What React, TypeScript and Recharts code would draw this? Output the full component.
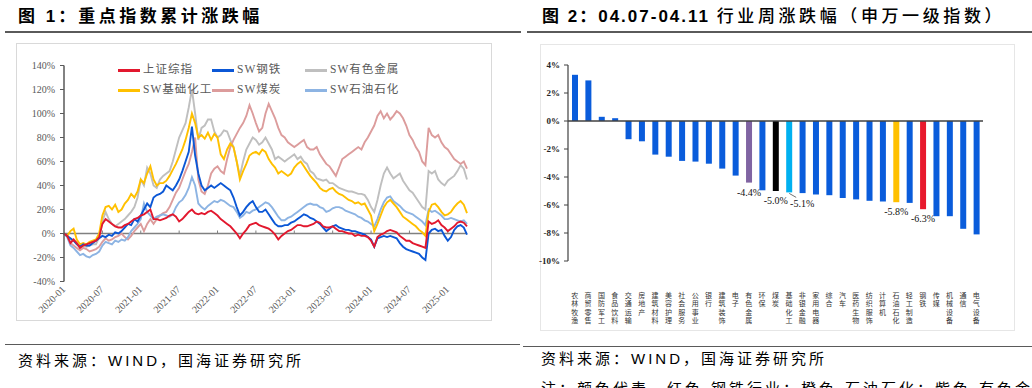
import React from 'react';
import { LineChart, Line, XAxis, YAxis, ReferenceLine, BarChart, Bar, Cell, LabelList } from 'recharts';

// ---------- Figure 1: cumulative change (semi-monthly points, 2020-01 .. 2025-04) ----------
const dates: string[] = [];
for (let yr = 2020; yr <= 2025; yr++) {
  for (let mo = 1; mo <= 12; mo++) {
    const mm = String(mo).padStart(2, '0');
    dates.push(`${yr}-${mm}-01`, `${yr}-${mm}-16`);
  }
}
dates.length = 127;

const xTicks = ['2020-01-01', '2020-07-01', '2021-01-01', '2021-07-01', '2022-01-01', '2022-07-01',
  '2023-01-01', '2023-07-01', '2024-01-01', '2024-07-01', '2025-01-01'];
const yTicksLeft = [-40, -20, 0, 20, 40, 60, 80, 100, 120, 140];

const sse = [
  0, -2, -8, -5, -8, -12, -10, -9, -8, -7, -6, -3, 8, 12, 10, 8, 6, 5, 5, 7, 8, 10, 12, 13,
  15, 16, 18, 20, 12, 12, 11, 12, 13, 15, 16, 14, 10, 12, 15, 18, 20, 17, 16, 17, 16, 18, 19, 17,
  15, 12, 10, 8, 6, 3, 0, -4, 0, 3, 7, 8, 9, 7, 6, 5, 4, 2, -1, -5, -2, 0, 2, 3,
  5, 7, 7, 6, 6, 7, 8, 10, 9, 6, 5, 5, 6, 4, 2, 2, 1, 0, 0, -2, -1, -2, -2, -3,
  -6, -11, -3, -1, 0, 2, 3, 2, 1, -2, -4, -6, -6, -8, -9, -10, -11, -12, 10, 8, 9, 11, 7, 5,
  2, 4, 6, 9, 10, 9, 6,
];
const steel = [
  0, -2, -4, -6, -9, -11, -9, -10, -10, -8, -6, -4, -2, -3, -1, -2, 1, 0, 2, 5, 8, 7, 12, 10,
  15, 20, 25, 22, 30, 32, 33, 35, 40, 38, 36, 40, 45, 52, 60, 68, 89, 65, 50, 40, 36, 38, 40, 38,
  40, 42, 40, 38, 36, 30, 22, 15, 18, 22, 25, 27, 22, 18, 18, 20, 16, 12, 8, 6, 6, 7, 7, 9,
  10, 12, 14, 16, 15, 13, 12, 10, 8, 5, 2, 4, 6, 7, 5, 4, 3, 3, 2, 2, 1, 0, -1, -3,
  -5, -11, -4, -3, -2, -3, -2, -3, -4, -8, -11, -13, -14, -15, -16, -17, -20, -22, 0, 3, 4, 2, 3, -2,
  -6, -3, 3, 6, 7, 5, -1,
];
const nonferrous = [
  0, -2, -5, -6, -8, -12, -10, -11, -10, -9, -9, -3, 10, 18, 12, 8, 6, 8, 10, 12, 15, 18, 22, 30,
  45, 40, 55, 50, 40, 38, 45, 48, 50, 52, 60, 70, 80, 86, 92, 105, 120, 100, 78, 88, 90, 95, 95, 85,
  80, 82, 86, 85, 78, 72, 60, 48, 60, 70, 75, 80, 78, 74, 76, 80, 75, 70, 62, 64, 62, 60, 62, 64,
  66, 62, 64, 60, 58, 52, 50, 46, 45, 44, 45, 42, 42, 40, 38, 37, 36, 35, 35, 34, 33, 33, 32, 28,
  22, 18, 28, 40, 50, 55, 50, 46, 48, 50, 44, 40, 36, 34, 30, 26, 22, 20, 52, 50, 52, 45, 42, 40,
  44, 46, 48, 52, 57, 54, 45,
];
const chemicals = [
  0, -2, 2, 4, -5, -9, -8, -9, -7, -6, -5, 0, 15, 22, 23, 20, 24, 18, 20, 25, 28, 33, 30, 35,
  45, 42, 50, 56, 45, 40, 42, 42, 44, 48, 53, 58, 64, 70, 78, 88, 100, 92, 80, 82, 79, 84, 78, 83,
  80, 66, 62, 70, 75, 72, 60, 45, 52, 58, 65, 67, 68, 66, 70, 68, 62, 58, 55, 50, 52, 50, 48, 50,
  55, 58, 60, 56, 52, 48, 45, 42, 38, 36, 35, 37, 38, 35, 33, 32, 30, 28, 27, 25, 26, 24, 25, 20,
  15, 2, 8, 15, 22, 26, 28, 25, 22, 18, 14, 12, 10, 8, 6, 3, 1, -2, 18, 24, 25, 22, 18, 15,
  16, 18, 22, 25, 27, 24, 17,
];
const coal = [
  0, -2, -8, -10, -12, -14, -12, -13, -15, -14, -13, -11, -7, -4, -6, -5, -3, -2, 0, -3, -5, -2, 2, 5,
  8, 2, 8, 12, 8, 12, 15, 17, 18, 22, 28, 34, 38, 45, 52, 58, 68, 80, 45, 35, 33, 40, 50, 54,
  56, 52, 50, 62, 72, 78, 83, 88, 92, 98, 107, 100, 92, 85, 88, 100, 108, 102, 96, 88, 82, 80, 76, 74,
  72, 74, 76, 78, 72, 70, 70, 72, 66, 62, 58, 56, 52, 48, 55, 62, 64, 66, 68, 70, 72, 70, 76, 80,
  85, 90, 98, 102, 96, 100, 95, 98, 102, 100, 96, 90, 82, 78, 72, 68, 60, 57, 88, 82, 80, 82, 76, 72,
  70, 66, 62, 60, 58, 60, 54,
];
const petro = [
  0, -3, -10, -12, -15, -18, -17, -19, -20, -18, -17, -15, -10, -7, -8, -9, -6, -7, -5, -6, -3, 2, 5, 8,
  12, 25, 18, 15, 12, 14, 15, 16, 15, 14, 16, 22, 26, 28, 32, 38, 47, 40, 25, 22, 20, 23, 25, 27,
  26, 28, 27, 25, 23, 22, 18, 13, 15, 18, 17, 19, 20, 22, 24, 26, 25, 22, 18, 14, 11, 11, 13, 14,
  16, 18, 20, 22, 24, 25, 24, 24, 22, 21, 18, 19, 21, 22, 22, 21, 19, 18, 17, 16, 14, 13, 11, 10,
  8, 6, 12, 20, 26, 30, 31, 27, 25, 23, 20, 18, 17, 16, 14, 12, 10, 7, 20, 18, 19, 17, 15, 12,
  12, 13, 12, 11, 10, 11, 8,
];

const lineData = dates.map((d, i) => ({
  d, sse: sse[i], steel: steel[i], nonferrous: nonferrous[i],
  chemicals: chemicals[i], coal: coal[i], petro: petro[i],
}));

const legendNames = ['上证综指', 'SW钢铁', 'SW有色金属', 'SW基础化工', 'SW煤炭', 'SW石油石化'];
const legendKeys = ['sse', 'steel', 'nonferrous', 'chemicals', 'coal', 'petro'];
const lineColors: Record<string, string> = {
  sse: '#E2182E', steel: '#0B57D6', nonferrous: '#BFBFBF',
  chemicals: '#FFC000', coal: '#DC9C9C', petro: '#8DB4E3',
};
const drawOrder = ['nonferrous', 'coal', 'petro', 'chemicals', 'steel', 'sse'];

// ---------- Figure 2: weekly change by SW level-1 industry ----------
const industries = ['农林牧渔', '商贸零售', '国防军工', '食品饮料', '交通运输', '房地产', '建筑材料', '美容护理',
  '社会服务', '公用事业', '银行', '建筑装饰', '电子', '有色金属', '环保', '煤炭', '基础化工', '非银金融',
  '家用电器', '综合', '汽车', '医药生物', '纺织服饰', '计算机', '石油石化', '轻工制造', '钢铁', '传媒',
  '机械设备', '通信', '电气设备'];
const weekly = [3.3, 2.9, 0.3, 0.2, -1.3, -1.45, -2.4, -2.55, -2.85, -2.9, -3.05, -3.4, -3.9, -4.4,
  -4.95, -5.0, -5.1, -5.15, -5.25, -5.3, -5.5, -5.6, -5.7, -5.75, -5.8, -5.85, -6.3, -6.8, -6.8, -7.7, -8.1];
const highlight: Record<string, string> = {
  '有色金属': '#8064A2', '煤炭': '#000000', '基础化工': '#00B0F0', '石油石化': '#FFC000', '钢铁': '#E8192C',
};
const defaultBar = '#0A5CDB';
const labelled = ['有色金属', '煤炭', '基础化工', '石油石化', '钢铁'];
const leaderLabel = '基础化工';
const yTicksRight = [-10, -8, -6, -4, -2, 0, 2, 4];

const barData = industries.map((name, i) => ({ name, v: weekly[i] }));

const SERIF = '"Liberation Serif", "Times New Roman", "Noto Sans CJK SC", serif';
const CJK = '"Noto Sans CJK SC", sans-serif';
const CJK_SERIF = '"Liberation Serif", "Noto Sans CJK SC", serif';
const SANS = '"Liberation Sans", Arial, "Noto Sans CJK SC", sans-serif';

const DateTick = (props: any) => {
  const { x, y, payload } = props;
  const ax = x + 2;
  const ay = y + 8.5;
  return (
    <text x={ax} y={ay} transform={`rotate(-45 ${ax} ${ay})`} textAnchor="end"
      fontSize={10} fill="#595959" fontFamily={SERIF}>
      {String(payload.value).slice(0, 7)}
    </text>
  );
};

const CatTick = (props: any) => {
  const { x, y, payload } = props;
  const chars = Array.from(String(payload.value));
  return (
    <g>
      {chars.map((c, i) => (
        <text key={i} x={x} y={y + 37 + i * 8.4} textAnchor="middle" fontSize={7}
          fill="#333" fontFamily={CJK}>{c}</text>
      ))}
    </g>
  );
};

const renderBarLabel = (props: any) => {
  const { x, y, width, height, index, value } = props;
  const name = industries[index];
  if (!labelled.includes(name)) return null;
  const cx = Number(x) + Number(width) / 2;
  const bottom = Math.max(Number(y), Number(y) + Number(height));
  const txt = `${Number(value).toFixed(1)}%`;
  if (name === leaderLabel) {
    return (
      <g>
        <line x1={cx} y1={bottom + 1} x2={cx + 7} y2={bottom + 5} stroke="#333" strokeWidth={0.7} />
        <text x={cx + 13} y={bottom + 15} textAnchor="middle" fontSize={10} fill="#111" fontFamily={SERIF}>{txt}</text>
      </g>
    );
  }
  return (
    <text x={cx} y={bottom + 13} textAnchor="middle" fontSize={10} fill="#111" fontFamily={SERIF}>{txt}</text>
  );
};

const abs = (l: number, t: number, extra: React.CSSProperties = {}): React.CSSProperties => ({
  position: 'absolute', left: l, top: t, whiteSpace: 'nowrap', lineHeight: 1, ...extra,
});

export default function App() {
  const legendPos = [
    [118, 70], [212, 70], [305, 70],
    [118, 90], [212, 90], [305, 90],
  ];
  return (
    <div style={{ position: 'absolute', left: 0, top: 0, width: 1032, height: 388, background: '#fff', overflow: 'hidden', fontFamily: SANS }}>
      {/* Titles */}
      <div style={abs(18, 8, { fontSize: 17, fontWeight: 700, color: '#000', letterSpacing: 3 })}>
        图 1：<span style={{ letterSpacing: 3.5 }}>重点指数累计涨跌幅</span>
      </div>
      <div style={abs(5, 31, { width: 516, height: 1.5, background: '#5a5a5a' })} />
      <div style={abs(542, 8, { fontSize: 17, fontWeight: 700, color: '#000', letterSpacing: 2 })}>
        图 2：04.07-04.11 <span style={{ fontWeight: 500, letterSpacing: 3.6 }}>行业周涨跌幅（申万一级指数）</span>
      </div>
      <div style={abs(527, 31, { width: 505, height: 1.5, background: '#5a5a5a' })} />

      {/* Frames */}
      <div style={abs(16, 43, { width: 476, height: 278, border: '1px solid #d9d9d9', boxSizing: 'border-box' })} />
      <div style={abs(540, 44, { width: 475, height: 287, border: '1px solid #e6e6e6', boxSizing: 'border-box' })} />

      {/* Figure 1 */}
      <div style={abs(0, 0)}>
        <LineChart width={520} height={340} data={lineData}
          margin={{ top: 65.5, right: 53, bottom: 18.5, left: 10 }}>
          <XAxis dataKey="d" ticks={xTicks} interval={0} tick={<DateTick />} tickLine={false}
            axisLine={false} tickSize={0} tickMargin={0} height={40} />
          <YAxis type="number" domain={[-40, 140]} ticks={yTicksLeft} interval={0} width={54}
            tickFormatter={(v: number) => `${v}%`} tickSize={4} tickMargin={5}
            axisLine={{ stroke: '#595959', strokeWidth: 1.5 }} tickLine={{ stroke: '#595959' }}
            tick={{ fontSize: 10, fill: '#595959', fontFamily: SERIF }} />
          <ReferenceLine y={0} stroke="#808080" strokeWidth={1.5} />
          {xTicks.slice(1).map((t) => (
            <ReferenceLine key={t} segment={[{ x: t, y: 0 }, { x: t, y: 2.5 }]} stroke="#808080" strokeWidth={1} />
          ))}
          {drawOrder.map((k) => (
            <Line key={k} type="linear" dataKey={k} stroke={lineColors[k]} strokeWidth={1.9}
              dot={false} activeDot={false} isAnimationActive={false} />
          ))}
        </LineChart>
      </div>

      {/* Legend for figure 1 */}
      {legendKeys.map((k, i) => (
        <div key={k}>
          <div style={abs(legendPos[i][0], legendPos[i][1] - 1.5, { width: 22, height: 3, background: lineColors[k] })} />
          <div style={abs(legendPos[i][0] + 25, legendPos[i][1] - 6, { fontSize: 11.5, color: '#595959', fontFamily: CJK_SERIF, letterSpacing: 1 })}>
            {legendNames[i]}
          </div>
        </div>
      ))}

      {/* Figure 2 */}
      <div style={abs(520, 0)}>
        <BarChart width={480} height={340} data={barData}
          margin={{ top: 65, right: 17, bottom: 9, left: 8 }}>
          <XAxis dataKey="name" interval={0} tick={<CatTick />} tickLine={false} axisLine={false}
            tickSize={0} tickMargin={0} height={70} />
          <YAxis type="number" domain={[-10, 4]} ticks={yTicksRight} interval={0} width={40}
            tickFormatter={(v: number) => `${v}%`} tickSize={4} tickMargin={4}
            axisLine={{ stroke: '#404040', strokeWidth: 1.2 }} tickLine={{ stroke: '#404040' }}
            tick={{ fontSize: 9, fill: '#262626', fontFamily: SERIF, fontWeight: 700 }} />
          <Bar dataKey="v" barSize={6} isAnimationActive={false}>
            {barData.map((d) => (
              <Cell key={d.name} fill={highlight[d.name] || defaultBar} />
            ))}
            <LabelList dataKey="v" content={renderBarLabel} />
          </Bar>
          <ReferenceLine y={0} stroke="#404040" strokeWidth={1.5} />
        </BarChart>
      </div>

      {/* Footers */}
      <div style={abs(5, 343.5, { width: 515, height: 1.5, background: '#5a5a5a' })} />
      <div style={abs(18, 353, { fontSize: 15, color: '#000', letterSpacing: 3 })}>
        资料来源：WIND，国海证券研究所
      </div>
      <div style={abs(523, 345.5, { width: 509, height: 1.5, background: '#5a5a5a' })} />
      <div style={abs(541, 351, { fontSize: 15, color: '#000', letterSpacing: 3 })}>
        资料来源：WIND，国海证券研究所
      </div>
      <div style={abs(541, 381, { fontSize: 15, color: '#000', letterSpacing: 3 })}>
        注：颜色代表，红色-钢铁行业；橙色-石油石化；紫色-有色金属；黑色-煤炭
      </div>
    </div>
  );
}
